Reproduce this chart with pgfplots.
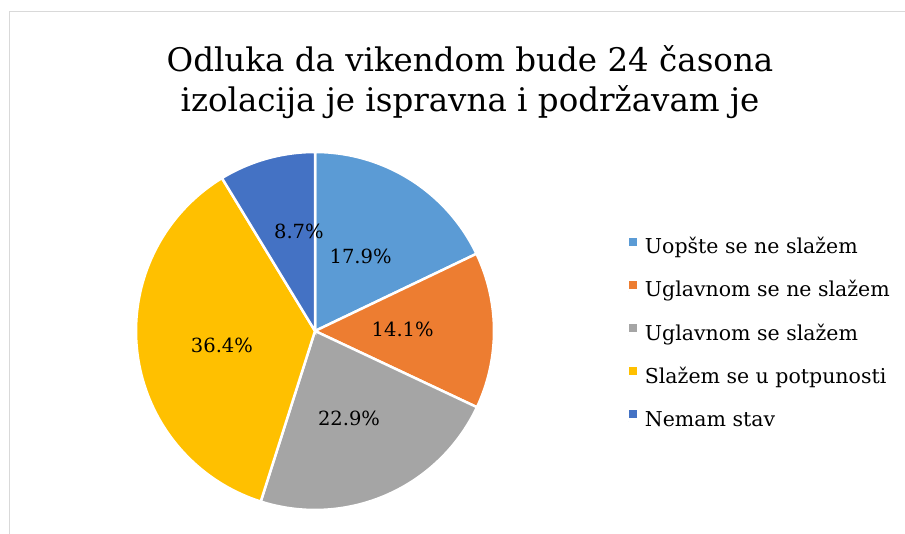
\documentclass[border=0pt]{standalone}
\usepackage{pgfplots}
\pgfplotsset{compat=1.18}
\usepackage{fontspec}
\setmainfont{DejaVu Serif}
\definecolor{c1}{HTML}{5B9BD5}
\definecolor{c2}{HTML}{ED7D31}
\definecolor{c3}{HTML}{A5A5A5}
\definecolor{c4}{HTML}{FFC000}
\definecolor{c5}{HTML}{4472C4}
\definecolor{frame}{HTML}{D9D9D9}
% shares in percent (clockwise from 12 o'clock)
\def\va{17.9}\def\vb{14.1}\def\vc{22.9}\def\vd{36.4}\def\ve{8.7}
\pgfmathsetmacro{\sa}{90}
\pgfmathsetmacro{\sb}{\sa-3.6*\va}
\pgfmathsetmacro{\sc}{\sb-3.6*\vb}
\pgfmathsetmacro{\sd}{\sc-3.6*\vc}
\pgfmathsetmacro{\se}{\sd-3.6*\vd}
\pgfmathsetmacro{\sf}{\se-3.6*\ve}
\begin{document}
\begin{tikzpicture}
\draw[frame, line width=1pt] (9pt,-20pt) -- (9pt,522pt) -- (930pt,522pt);
\node[anchor=base, inner sep=0pt, font=\fontsize{32.5}{39}\selectfont] at (470pt,462pt) {Odluka da vikendom bude 24 časona};
\node[anchor=base, inner sep=0pt, font=\fontsize{32.5}{39}\selectfont] at (470pt,422pt) {izolacija je ispravna i podržavam je};
\begin{axis}[
  at={(315pt,203pt)}, anchor=center,
  scale only axis, width=358pt, height=358pt,
  xmin=-1, xmax=1, ymin=-1, ymax=1,
  hide axis, clip=false,
  legend style={draw=none, fill=none, at={(1.372,0.49)}, anchor=west,
    inner sep=0pt, row sep=22.2pt, column sep=0pt,
    font=\fontsize{20.5}{24}\selectfont,
    nodes={inner sep=0pt, text height=15pt, text depth=5pt}},
  legend cell align=left,
  legend image code/.code={\fill[#1, draw=none] (0pt,3pt) rectangle (8pt,11pt); \path (0pt,0pt) -- (15pt,0pt);},
]
\addplot[fill=c1, draw=white, line width=2.5pt, domain=\sb:\sa, samples=60] ({cos(x)},{sin(x)}) -- (axis cs:0,0) -- cycle;
\addlegendentry{Uopšte se ne slažem}
\addplot[fill=c2, draw=white, line width=2.5pt, domain=\sc:\sb, samples=60] ({cos(x)},{sin(x)}) -- (axis cs:0,0) -- cycle;
\addlegendentry{Uglavnom se ne slažem}
\addplot[fill=c3, draw=white, line width=2.5pt, domain=\sd:\sc, samples=60] ({cos(x)},{sin(x)}) -- (axis cs:0,0) -- cycle;
\addlegendentry{Uglavnom se slažem}
\addplot[fill=c4, draw=white, line width=2.5pt, domain=\se:\sd, samples=80] ({cos(x)},{sin(x)}) -- (axis cs:0,0) -- cycle;
\addlegendentry{Slažem se u potpunosti}
\addplot[fill=c5, draw=white, line width=2.5pt, domain=\sf:\se, samples=40] ({cos(x)},{sin(x)}) -- (axis cs:0,0) -- cycle;
\addlegendentry{Nemam stav}
\begin{scope}[font=\fontsize{19.5}{23}\selectfont]
\node at (axis cs:0.255,0.418) {17.9\%};
\node at (axis cs:0.49,0.011) {14.1\%};
\node at (axis cs:0.19,-0.486) {22.9\%};
\node at (axis cs:-0.52,-0.079) {36.4\%};
\node at (axis cs:-0.09,0.559) {8.7\%};
\end{scope}
\end{axis}
\pgfresetboundingbox
\path[use as bounding box] (0pt,0pt) rectangle (905pt,534pt);
\end{tikzpicture}
\end{document}
